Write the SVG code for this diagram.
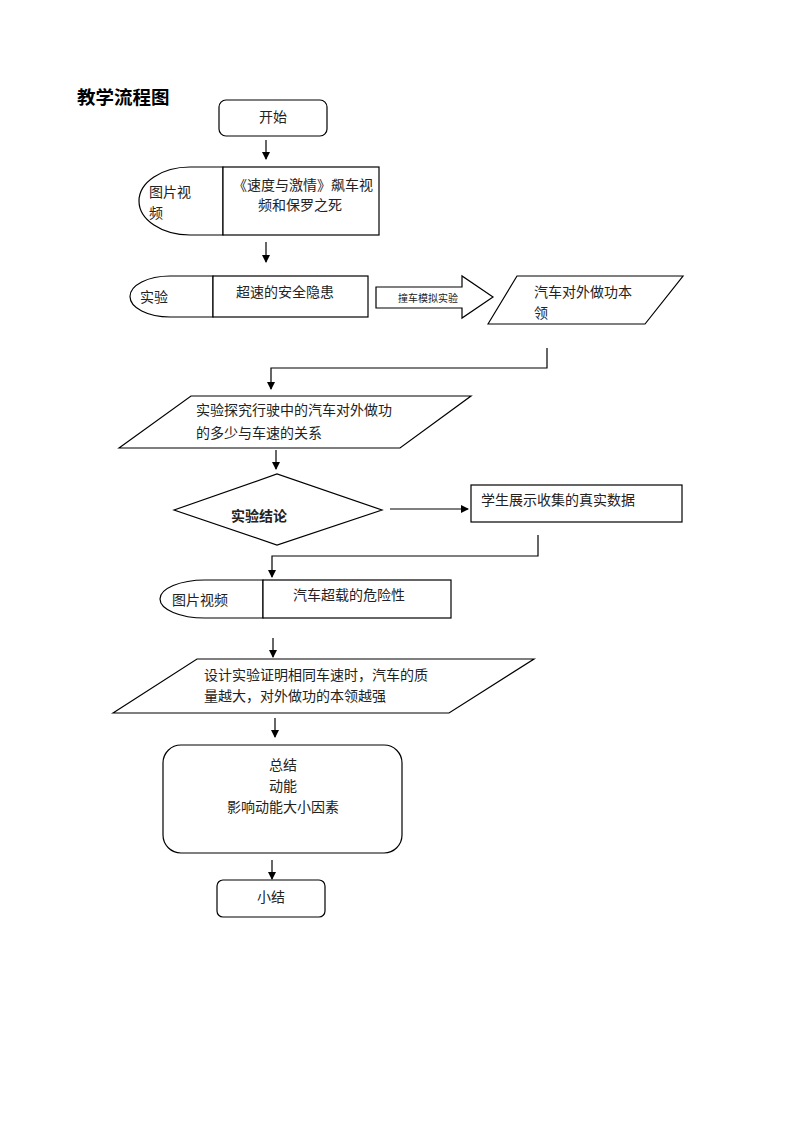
<svg xmlns="http://www.w3.org/2000/svg" width="800" height="1132" viewBox="0 0 800 1132">
<style>
.s{fill:#fff;stroke:#000;stroke-width:1.2}
.t{font-family:"Liberation Sans","Noto Sans CJK SC",sans-serif;font-size:14px;fill:#222}
.c{text-anchor:middle}
.ln{fill:none;stroke:#000;stroke-width:1.2}
</style>
<defs>
<marker id="ah" markerWidth="8" markerHeight="8" refX="7" refY="4" orient="auto" markerUnits="userSpaceOnUse">
<path d="M0,0 L8,4 L0,8 z" fill="#000"/>
</marker>
</defs>
<rect width="800" height="1132" fill="#fff"/>
<text x="77" y="104" font-family="'Liberation Sans','Noto Sans CJK SC',sans-serif" font-size="18.5" font-weight="bold">教学流程图</text>

<g id="start">
<rect class="s" x="219" y="100" width="108" height="36" rx="7"/>
<text class="t c" x="273" y="122">开始</text>
</g>

<g id="n-video1">
<path class="s" d="M223,167 H190 A51,34 0 0 0 190,235 H223 Z"/>
<rect class="s" x="223" y="167" width="156" height="68"/>
<text class="t" x="149" y="197">图片视</text>
<text class="t" x="149" y="218">频</text>
<text class="t c" x="303" y="190" font-size="14.8">《速度与激情》飙车视</text>
<text class="t c" x="300" y="210">频和保罗之死</text>
</g>

<g id="n-exp1">
<path class="s" d="M213,276 H170 A40,20.5 0 0 0 170,317 H213 Z"/>
<rect class="s" x="213" y="276" width="155" height="41"/>
<text class="t" x="140" y="302">实验</text>
<text class="t" x="236" y="297">超速的安全隐患</text>
</g>

<g id="n-blockarrow">
<path class="s" d="M376,287 H462 V276 L493,297 L462,318 V308 H376 Z"/>
<text x="398" y="302" font-family="'Liberation Sans','Noto Sans CJK SC',sans-serif" font-size="10" fill="#222">撞车模拟实验</text>
</g>

<g id="n-power">
<polygon class="s" points="488,324 517,276 683,276 645,324"/>
<text class="t" x="534" y="297">汽车对外做功本</text>
<text class="t" x="534" y="318">领</text>
</g>

<g id="n-explore">
<polygon class="s" points="119,448 191,396 471,396 400,448"/>
<text class="t" x="196" y="415">实验探究行驶中的汽车对外做功</text>
<text class="t" x="196" y="438">的多少与车速的关系</text>
</g>

<g id="n-conclusion">
<polygon class="s" points="174,510 277,474 382,510 277,545"/>
<text class="t" x="231" y="521" font-weight="bold">实验结论</text>
</g>

<g id="n-data">
<rect class="s" x="471" y="485" width="211" height="37"/>
<text class="t" x="481" y="505">学生展示收集的真实数据</text>
</g>

<g id="n-video2">
<path class="s" d="M263,580 H205 A45,19 0 0 0 205,618 H263 Z"/>
<rect class="s" x="263" y="580" width="188" height="38"/>
<text class="t" x="172" y="605">图片视频</text>
<text class="t" x="293" y="600">汽车超载的危险性</text>
</g>

<g id="n-design">
<polygon class="s" points="113,713 197,659 534,659 449,713"/>
<text class="t" x="204" y="680">设计实验证明相同车速时，汽车的质</text>
<text class="t" x="204" y="701">量越大，对外做功的本领越强</text>
</g>

<g id="n-summary">
<rect class="s" x="163" y="745" width="239" height="108" rx="18"/>
<text class="t c" x="283" y="770">总结</text>
<text class="t c" x="283" y="791">动能</text>
<text class="t c" x="283" y="812">影响动能大小因素</text>
</g>

<g id="end">
<rect class="s" x="217" y="880" width="108" height="37" rx="6"/>
<text class="t c" x="271" y="902">小结</text>
</g>

<g id="connectors">
<line class="ln" x1="266" y1="140" x2="266" y2="159" marker-end="url(#ah)"/>
<line class="ln" x1="266" y1="242" x2="266" y2="262" marker-end="url(#ah)"/>
<polyline class="ln" points="547,348 547,368 271,368 271,389" marker-end="url(#ah)"/>
<line class="ln" x1="276" y1="450" x2="276" y2="469" marker-end="url(#ah)"/>
<line class="ln" x1="390" y1="509" x2="468" y2="509" marker-end="url(#ah)"/>
<polyline class="ln" points="538,535 538,556 272,556 272,577" marker-end="url(#ah)"/>
<line class="ln" x1="273" y1="638" x2="273" y2="657" marker-end="url(#ah)"/>
<line class="ln" x1="275" y1="718" x2="275" y2="737" marker-end="url(#ah)"/>
<line class="ln" x1="272" y1="860" x2="272" y2="879" marker-end="url(#ah)"/>
</g>
</svg>
